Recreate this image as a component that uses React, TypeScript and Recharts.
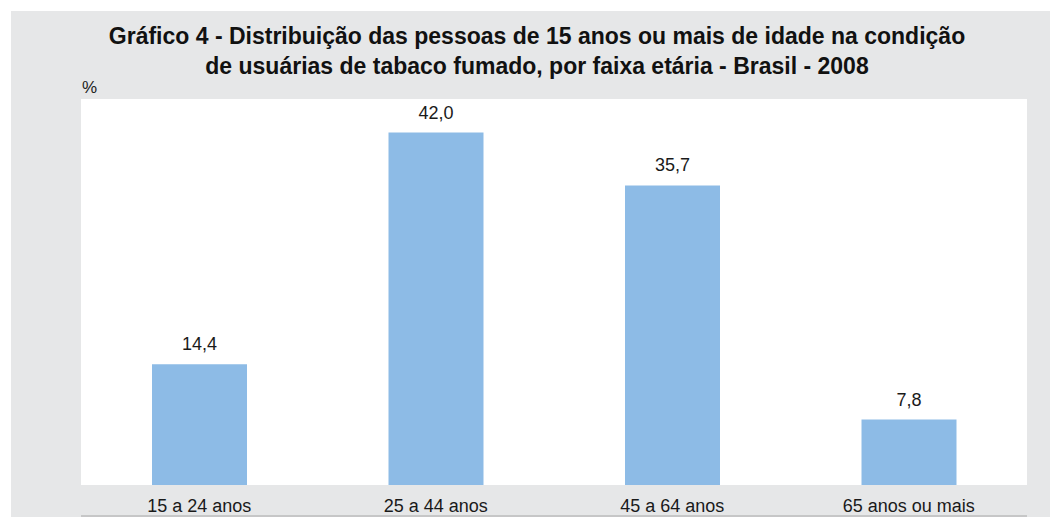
import { BarChart, Bar, XAxis, YAxis, CartesianGrid, ReferenceArea, LabelList } from "recharts";

const faixas = ["15 a 24 anos", "25 a 44 anos", "45 a 64 anos", "65 anos ou mais"];
const percentuais = [14.4, 42.0, 35.7, 7.8];

const data = faixas.map((faixa, i) => ({ faixa, valor: percentuais[i] }));

const FONT = "'Liberation Sans', Arial, Helvetica, sans-serif";
const fmt = (v: number) => v.toFixed(1).replace(".", ",");

export default function App() {
  return (
    <div style={{ position: "absolute", left: 0, top: 0, width: 1050, height: 517, overflow: "hidden", fontFamily: FONT, background: "#fff" }}>
      <div style={{ position: "absolute", left: 11, top: 11, right: 0, bottom: 0, background: "#e6e7e8" }} />
      <div
        style={{
          position: "absolute",
          left: 0,
          top: 21,
          width: 1074,
          textAlign: "center",
          fontSize: 23,
          lineHeight: "30px",
          fontWeight: "bold",
          color: "#111",
        }}
      >
        Gráfico 4 - Distribuição das pessoas de 15 anos ou mais de idade na condição
        <br />
        de usuárias de tabaco fumado, por faixa etária - Brasil - 2008
      </div>
      <div style={{ position: "absolute", left: 82, top: 78, fontSize: 17, color: "#222" }}>%</div>
      <BarChart
        width={1050}
        height={517}
        data={data}
        margin={{ top: 99, right: 23, bottom: 0, left: 81 }}
        style={{ position: "absolute", left: 0, top: 0 }}
      >
        <CartesianGrid horizontal={false} vertical={false} fill="#ffffff" />
        <XAxis
          xAxisId="b"
          type="number"
          domain={[0, 4]}
          ticks={[0, 1, 2, 3, 4]}
          height={1}
          tick={false}
          tickSize={6}
          axisLine={{ stroke: "#a6a6a6" }}
          tickLine={{ stroke: "#a6a6a6" }}
        />
        <XAxis
          dataKey="faixa"
          height={31}
          tickSize={0}
          tickMargin={14}
          axisLine={false}
          tickLine={false}
          tick={{ fontSize: 18, fill: "#1a1a1a", fontFamily: FONT }}
          interval={0}
        />
        <YAxis hide domain={[0, 46]} />
        <ReferenceArea xAxisId="b" x1={0} x2={4} y1={0} y2={46} fill="none" stroke="#b5b5b5" strokeWidth={1} />
        <Bar dataKey="valor" fill="#8dbbe6" barSize={95} isAnimationActive={false}>
          <LabelList dataKey="valor" position="top" offset={14} formatter={(v: any) => fmt(Number(v))} style={{ fontSize: 18, fill: "#1a1a1a", fontFamily: FONT }} />
        </Bar>
      </BarChart>
    </div>
  );
}
